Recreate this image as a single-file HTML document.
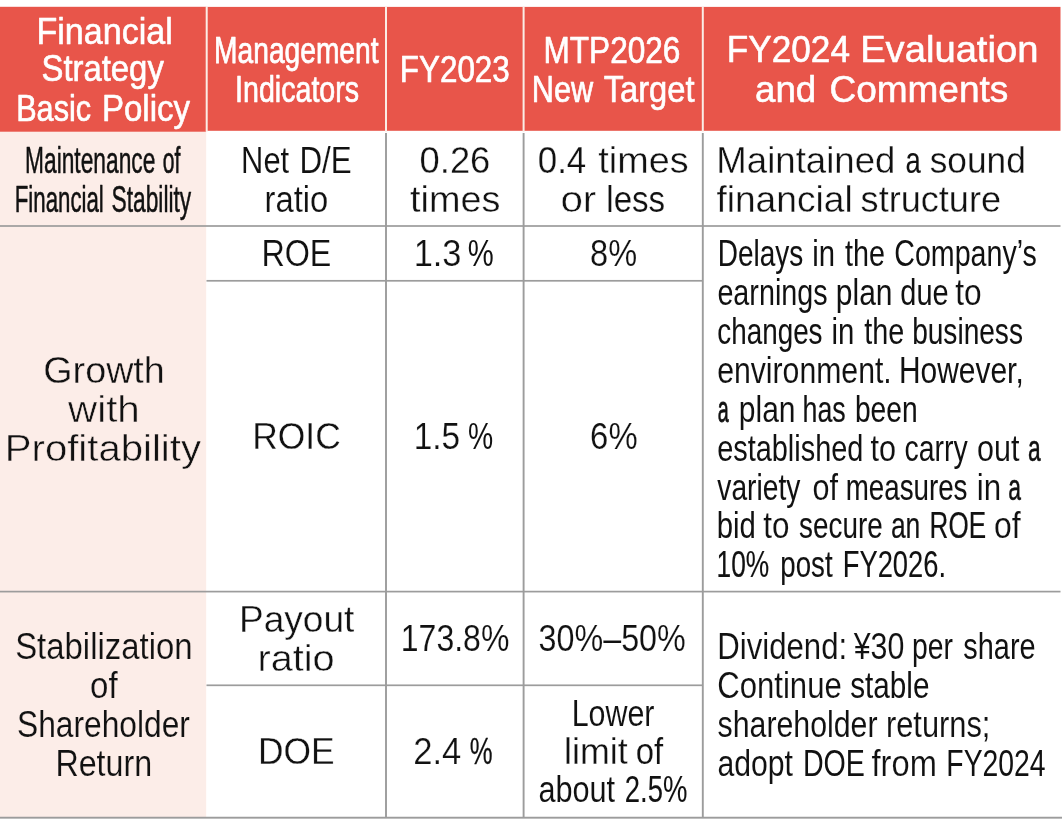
<!DOCTYPE html>
<html lang="en">
<head>
<meta charset="utf-8">
<title>Financial Strategy Basic Policy</title>
<style>
html,body{margin:0;padding:0;background:#fff;}
body{width:1062px;height:835px;overflow:hidden;}
svg{display:block;}
text{font-family:"Liberation Sans",sans-serif;font-size:36px;}
text.h{stroke:#fff;stroke-linejoin:round;}
text.b{stroke:#111;stroke-linejoin:round;}
text.ew{stroke:#fff;}
text.ep{stroke:#FCEDE8;}
</style>
</head>
<body>
<svg width="1062" height="835" viewBox="0 0 1062 835">
<rect x="0" y="0" width="1062" height="835" fill="#fff"/>
<rect x="0" y="131" width="206.2" height="686.5" fill="#FCEDE8"/>
<rect x="0" y="6.9" width="1060.5" height="123.9" fill="#E8554A"/>
<rect x="0" y="6.9" width="206" height="124.8" fill="#E8554A"/>
<rect x="205.7" y="6.9" width="2" height="124.8" fill="#FBEDE6"/>
<rect x="385.0" y="6.9" width="2" height="124.8" fill="#FBEDE6"/>
<rect x="522.6" y="6.9" width="2" height="124.8" fill="#FBEDE6"/>
<rect x="701.8" y="6.9" width="2" height="124.8" fill="#FBEDE6"/>
<rect x="385.05" y="133" width="1.9" height="685" fill="#9c9c9c"/>
<rect x="522.65" y="133" width="1.9" height="685" fill="#9c9c9c"/>
<rect x="701.85" y="133" width="1.9" height="685" fill="#9c9c9c"/>
<rect x="0" y="225.15" width="1060.5" height="1.7" fill="#9c9c9c"/>
<rect x="206.5" y="279.95" width="496.3" height="1.7" fill="#9c9c9c"/>
<rect x="0" y="590.75" width="1060.5" height="1.7" fill="#9c9c9c"/>
<rect x="206.5" y="684.45" width="496.3" height="1.7" fill="#9c9c9c"/>
<rect x="0" y="816.75" width="1062.0" height="1.9" fill="#9c9c9c"/>
<text x="36.48" y="43.5" textLength="136.25" lengthAdjust="spacingAndGlyphs" fill="#fff" class="h" stroke-width="0.60">Financial</text>
<text x="41.50" y="81.2" textLength="122.32" lengthAdjust="spacingAndGlyphs" fill="#fff" class="h" stroke-width="0.63">Strategy</text>
<text x="16.17" y="120.6" textLength="74.99" lengthAdjust="spacingAndGlyphs" fill="#fff" class="h" stroke-width="0.68">Basic</text>
<text x="101.91" y="120.6" textLength="88.17" lengthAdjust="spacingAndGlyphs" fill="#fff" class="h" stroke-width="0.62">Policy</text>
<text x="214.08" y="62.8" textLength="164.43" lengthAdjust="spacingAndGlyphs" fill="#fff" class="h" stroke-width="0.75">Management</text>
<text x="235.08" y="102.2" textLength="124.03" lengthAdjust="spacingAndGlyphs" fill="#fff" class="h" stroke-width="0.73">Indicators</text>
<text x="399.87" y="81.8" textLength="109.92" lengthAdjust="spacingAndGlyphs" fill="#fff" class="h" stroke-width="0.67">FY2023</text>
<text x="543.52" y="62.6" textLength="136.92" lengthAdjust="spacingAndGlyphs" fill="#fff" class="h" stroke-width="0.66">MTP2026</text>
<text x="531.75" y="102.4" textLength="61.41" lengthAdjust="spacingAndGlyphs" fill="#fff" class="h" stroke-width="0.68">New</text>
<text x="603.65" y="102.4" textLength="90.83" lengthAdjust="spacingAndGlyphs" fill="#fff" class="h" stroke-width="0.63">Target</text>
<text x="726.85" y="62.3" textLength="123.11" lengthAdjust="spacingAndGlyphs" fill="#fff" class="h" stroke-width="0.57">FY2024</text>
<text x="860.17" y="62.3" textLength="178.24" lengthAdjust="spacingAndGlyphs" fill="#fff" class="h" stroke-width="0.55">Evaluation</text>
<text x="755.01" y="102.1" textLength="61.24" lengthAdjust="spacingAndGlyphs" fill="#fff" class="h" stroke-width="0.55">and</text>
<text x="829.42" y="102.1" textLength="178.91" lengthAdjust="spacingAndGlyphs" fill="#fff" class="h" stroke-width="0.55">Comments</text>
<text x="25.04" y="173.3" textLength="130.29" lengthAdjust="spacingAndGlyphs" fill="#111" class="b" stroke-width="0.50">Maintenance</text>
<text x="162.68" y="173.3" textLength="17.58" lengthAdjust="spacingAndGlyphs" fill="#111" class="b" stroke-width="0.64">of</text>
<text x="14.76" y="212.4" textLength="89.00" lengthAdjust="spacingAndGlyphs" fill="#111" class="b" stroke-width="0.55">Financial</text>
<text x="111.51" y="212.4" textLength="79.75" lengthAdjust="spacingAndGlyphs" fill="#111" class="b" stroke-width="0.50">Stability</text>
<text x="241.11" y="172.5" textLength="48.06" lengthAdjust="spacingAndGlyphs" fill="#111" class="ew" stroke-width="0.09">Net</text>
<text x="299.46" y="172.5" textLength="52.24" lengthAdjust="spacingAndGlyphs" fill="#111" class="ew" stroke-width="0.11">D/E</text>
<text x="264.50" y="211.5" textLength="63.76" lengthAdjust="spacingAndGlyphs" fill="#111" class="ew" stroke-width="0.17">ratio</text>
<text x="419.62" y="172.5" textLength="70.72" lengthAdjust="spacingAndGlyphs" fill="#111" class="ew" stroke-width="0.31">0.26</text>
<text x="409.94" y="211.5" textLength="90.50" lengthAdjust="spacingAndGlyphs" fill="#111" class="ew" stroke-width="0.38">times</text>
<text x="537.79" y="172.5" textLength="48.48" lengthAdjust="spacingAndGlyphs" fill="#111" class="ew" stroke-width="0.25">0.4</text>
<text x="598.28" y="172.5" textLength="90.28" lengthAdjust="spacingAndGlyphs" fill="#111" class="ew" stroke-width="0.37">times</text>
<text x="560.41" y="211.5" textLength="35.88" lengthAdjust="spacingAndGlyphs" fill="#111" class="ew" stroke-width="0.48">or</text>
<text x="606.30" y="211.5" textLength="58.84" lengthAdjust="spacingAndGlyphs" fill="#111" class="ew" stroke-width="0.18">less</text>
<text x="716.30" y="172.5" textLength="179.08" lengthAdjust="spacingAndGlyphs" fill="#111" class="ew" stroke-width="0.33">Maintained</text>
<text x="905.62" y="172.5" textLength="15.26" lengthAdjust="spacingAndGlyphs" fill="#111" class="b" stroke-width="0.11">a</text>
<text x="929.70" y="172.5" textLength="96.09" lengthAdjust="spacingAndGlyphs" fill="#111" class="ew" stroke-width="0.27">sound</text>
<text x="716.40" y="211.5" textLength="136.26" lengthAdjust="spacingAndGlyphs" fill="#111" class="ew" stroke-width="0.35">financial</text>
<text x="860.62" y="211.5" textLength="140.36" lengthAdjust="spacingAndGlyphs" fill="#111" class="ew" stroke-width="0.30">structure</text>
<text x="43.28" y="382.9" textLength="121.56" lengthAdjust="spacingAndGlyphs" fill="#111" class="ep" stroke-width="0.37">Growth</text>
<text x="68.13" y="422.2" textLength="71.67" lengthAdjust="spacingAndGlyphs" fill="#111" class="ep" stroke-width="0.48">with</text>
<text x="4.84" y="461.3" textLength="196.10" lengthAdjust="spacingAndGlyphs" fill="#111" class="ep" stroke-width="0.47">Profitability</text>
<text x="261.39" y="265.5" textLength="70.04" lengthAdjust="spacingAndGlyphs" fill="#111" class="ew" stroke-width="0.15">ROE</text>
<text x="413.64" y="265.5" textLength="47.84" lengthAdjust="spacingAndGlyphs" fill="#111" class="ew" stroke-width="0.23">1.3</text>
<text x="467.69" y="265.5" textLength="25.99" lengthAdjust="spacingAndGlyphs" fill="#111">%</text>
<text x="590.07" y="265.5" textLength="47.02" lengthAdjust="spacingAndGlyphs" fill="#111" class="ew" stroke-width="0.16">8%</text>
<text x="252.22" y="448.5" textLength="88.49" lengthAdjust="spacingAndGlyphs" fill="#111" class="ew" stroke-width="0.27">ROIC</text>
<text x="413.64" y="448.5" textLength="46.39" lengthAdjust="spacingAndGlyphs" fill="#111" class="ew" stroke-width="0.19">1.5</text>
<text x="467.88" y="448.5" textLength="25.18" lengthAdjust="spacingAndGlyphs" fill="#111">%</text>
<text x="590.11" y="448.5" textLength="47.47" lengthAdjust="spacingAndGlyphs" fill="#111" class="ew" stroke-width="0.17">6%</text>
<text x="717.76" y="266.2" textLength="85.49" lengthAdjust="spacingAndGlyphs" fill="#111" class="b" stroke-width="0.07">Delays</text>
<text x="812.35" y="266.2" textLength="22.77" lengthAdjust="spacingAndGlyphs" fill="#111">in</text>
<text x="845.05" y="266.2" textLength="39.93" lengthAdjust="spacingAndGlyphs" fill="#111">the</text>
<text x="894.24" y="266.2" textLength="142.67" lengthAdjust="spacingAndGlyphs" fill="#111">Company’s</text>
<text x="717.39" y="305.2" textLength="110.24" lengthAdjust="spacingAndGlyphs" fill="#111">earnings</text>
<text x="835.85" y="305.2" textLength="56.65" lengthAdjust="spacingAndGlyphs" fill="#111">plan</text>
<text x="900.36" y="305.2" textLength="48.28" lengthAdjust="spacingAndGlyphs" fill="#111">due</text>
<text x="955.17" y="305.2" textLength="26.41" lengthAdjust="spacingAndGlyphs" fill="#111" class="ew" stroke-width="0.12">to</text>
<text x="717.36" y="344.3" textLength="105.17" lengthAdjust="spacingAndGlyphs" fill="#111" class="b" stroke-width="0.08">changes</text>
<text x="831.58" y="344.3" textLength="22.85" lengthAdjust="spacingAndGlyphs" fill="#111">in</text>
<text x="864.30" y="344.3" textLength="40.04" lengthAdjust="spacingAndGlyphs" fill="#111">the</text>
<text x="912.14" y="344.3" textLength="110.81" lengthAdjust="spacingAndGlyphs" fill="#111" class="b" stroke-width="0.06">business</text>
<text x="717.17" y="382.9" textLength="174.56" lengthAdjust="spacingAndGlyphs" fill="#111" class="ew" stroke-width="0.06">environment.</text>
<text x="898.99" y="382.9" textLength="124.73" lengthAdjust="spacingAndGlyphs" fill="#111">However,</text>
<text x="717.77" y="421.7" textLength="10.96" lengthAdjust="spacingAndGlyphs" fill="#111" class="b" stroke-width="0.76">a</text>
<text x="738.84" y="421.7" textLength="56.73" lengthAdjust="spacingAndGlyphs" fill="#111" class="ew" stroke-width="0.05">plan</text>
<text x="802.51" y="421.7" textLength="43.22" lengthAdjust="spacingAndGlyphs" fill="#111" class="b" stroke-width="0.17">has</text>
<text x="854.96" y="421.7" textLength="62.64" lengthAdjust="spacingAndGlyphs" fill="#111" class="b" stroke-width="0.05">been</text>
<text x="717.17" y="461.1" textLength="146.19" lengthAdjust="spacingAndGlyphs" fill="#111">established</text>
<text x="870.58" y="461.1" textLength="25.50" lengthAdjust="spacingAndGlyphs" fill="#111" class="ew" stroke-width="0.07">to</text>
<text x="904.43" y="461.1" textLength="63.21" lengthAdjust="spacingAndGlyphs" fill="#111">carry</text>
<text x="977.07" y="461.1" textLength="42.43" lengthAdjust="spacingAndGlyphs" fill="#111" class="ew" stroke-width="0.07">out</text>
<text x="1028.07" y="461.1" textLength="12.70" lengthAdjust="spacingAndGlyphs" fill="#111" class="b" stroke-width="0.50">a</text>
<text x="717.34" y="499.9" textLength="82.97" lengthAdjust="spacingAndGlyphs" fill="#111" class="b" stroke-width="0.05">variety</text>
<text x="812.40" y="499.9" textLength="25.48" lengthAdjust="spacingAndGlyphs" fill="#111" class="ew" stroke-width="0.07">of</text>
<text x="845.68" y="499.9" textLength="121.81" lengthAdjust="spacingAndGlyphs" fill="#111" class="b" stroke-width="0.09">measures</text>
<text x="976.80" y="499.9" textLength="24.35" lengthAdjust="spacingAndGlyphs" fill="#111" class="ew" stroke-width="0.10">in</text>
<text x="1008.17" y="499.9" textLength="12.73" lengthAdjust="spacingAndGlyphs" fill="#111" class="b" stroke-width="0.49">a</text>
<text x="716.79" y="537.5" textLength="39.08" lengthAdjust="spacingAndGlyphs" fill="#111">bid</text>
<text x="763.33" y="537.5" textLength="26.19" lengthAdjust="spacingAndGlyphs" fill="#111" class="ew" stroke-width="0.11">to</text>
<text x="799.12" y="537.5" textLength="83.52" lengthAdjust="spacingAndGlyphs" fill="#111" class="b" stroke-width="0.08">secure</text>
<text x="890.88" y="537.5" textLength="29.46" lengthAdjust="spacingAndGlyphs" fill="#111" class="b" stroke-width="0.19">an</text>
<text x="929.59" y="537.5" textLength="56.49" lengthAdjust="spacingAndGlyphs" fill="#111" class="b" stroke-width="0.23">ROE</text>
<text x="993.89" y="537.5" textLength="26.67" lengthAdjust="spacingAndGlyphs" fill="#111" class="ew" stroke-width="0.13">of</text>
<text x="716.56" y="576.5" textLength="52.61" lengthAdjust="spacingAndGlyphs" fill="#111" class="b" stroke-width="0.21">10%</text>
<text x="780.34" y="576.5" textLength="52.32" lengthAdjust="spacingAndGlyphs" fill="#111" class="b" stroke-width="0.09">post</text>
<text x="842.72" y="576.5" textLength="103.31" lengthAdjust="spacingAndGlyphs" fill="#111" class="b" stroke-width="0.12">FY2026.</text>
<text x="15.15" y="658.9" textLength="177.48" lengthAdjust="spacingAndGlyphs" fill="#111" class="ep" stroke-width="0.17">Stabilization</text>
<text x="90.12" y="697.8" textLength="27.60" lengthAdjust="spacingAndGlyphs" fill="#111" class="ep" stroke-width="0.18">of</text>
<text x="17.07" y="736.9" textLength="172.85" lengthAdjust="spacingAndGlyphs" fill="#111" class="ep" stroke-width="0.12">Shareholder</text>
<text x="55.43" y="776.0" textLength="96.69" lengthAdjust="spacingAndGlyphs" fill="#111" class="ep" stroke-width="0.14">Return</text>
<text x="238.90" y="632.3" textLength="115.49" lengthAdjust="spacingAndGlyphs" fill="#111" class="ew" stroke-width="0.35">Payout</text>
<text x="257.44" y="670.9" textLength="77.24" lengthAdjust="spacingAndGlyphs" fill="#111" class="ew" stroke-width="0.45">ratio</text>
<text x="257.89" y="763.6" textLength="76.68" lengthAdjust="spacingAndGlyphs" fill="#111" class="ew" stroke-width="0.27">DOE</text>
<text x="400.84" y="650.9" textLength="108.51" lengthAdjust="spacingAndGlyphs" fill="#111" class="ew" stroke-width="0.13">173.8%</text>
<text x="538.58" y="650.9" textLength="147.19" lengthAdjust="spacingAndGlyphs" fill="#111" class="ew" stroke-width="0.15">30%–50%</text>
<text x="413.18" y="763.6" textLength="48.07" lengthAdjust="spacingAndGlyphs" fill="#111" class="ew" stroke-width="0.24">2.4</text>
<text x="469.84" y="763.6" textLength="22.83" lengthAdjust="spacingAndGlyphs" fill="#111" class="b" stroke-width="0.26">%</text>
<text x="571.64" y="725.5" textLength="82.82" lengthAdjust="spacingAndGlyphs" fill="#111" class="ew" stroke-width="0.07">Lower</text>
<text x="564.03" y="763.5" textLength="63.60" lengthAdjust="spacingAndGlyphs" fill="#111" class="ew" stroke-width="0.29">limit</text>
<text x="635.81" y="763.5" textLength="27.46" lengthAdjust="spacingAndGlyphs" fill="#111" class="ew" stroke-width="0.17">of</text>
<text x="538.40" y="802.1" textLength="76.73" lengthAdjust="spacingAndGlyphs" fill="#111" class="ew" stroke-width="0.08">about</text>
<text x="624.84" y="802.1" textLength="62.59" lengthAdjust="spacingAndGlyphs" fill="#111" class="b" stroke-width="0.11">2.5%</text>
<text x="717.32" y="659.2" textLength="129.81" lengthAdjust="spacingAndGlyphs" fill="#111" class="ew" stroke-width="0.10">Dividend:</text>
<text x="853.63" y="659.2" textLength="50.66" lengthAdjust="spacingAndGlyphs" fill="#111" class="ew" stroke-width="0.07">¥30</text>
<text x="912.06" y="659.2" textLength="40.92" lengthAdjust="spacingAndGlyphs" fill="#111">per</text>
<text x="963.37" y="659.2" textLength="72.19" lengthAdjust="spacingAndGlyphs" fill="#111">share</text>
<text x="717.33" y="697.8" textLength="124.36" lengthAdjust="spacingAndGlyphs" fill="#111" class="ew" stroke-width="0.09">Continue</text>
<text x="850.20" y="697.8" textLength="79.28" lengthAdjust="spacingAndGlyphs" fill="#111">stable</text>
<text x="717.56" y="736.9" textLength="159.99" lengthAdjust="spacingAndGlyphs" fill="#111" class="ew" stroke-width="0.06">shareholder</text>
<text x="885.94" y="736.9" textLength="104.43" lengthAdjust="spacingAndGlyphs" fill="#111" class="ew" stroke-width="0.08">returns;</text>
<text x="717.38" y="776.0" textLength="75.60" lengthAdjust="spacingAndGlyphs" fill="#111" class="ew" stroke-width="0.06">adopt</text>
<text x="802.89" y="776.0" textLength="61.99" lengthAdjust="spacingAndGlyphs" fill="#111">DOE</text>
<text x="871.51" y="776.0" textLength="65.34" lengthAdjust="spacingAndGlyphs" fill="#111" class="ew" stroke-width="0.16">from</text>
<text x="946.36" y="776.0" textLength="99.26" lengthAdjust="spacingAndGlyphs" fill="#111">FY2024</text>
</svg>
</body>
</html>
